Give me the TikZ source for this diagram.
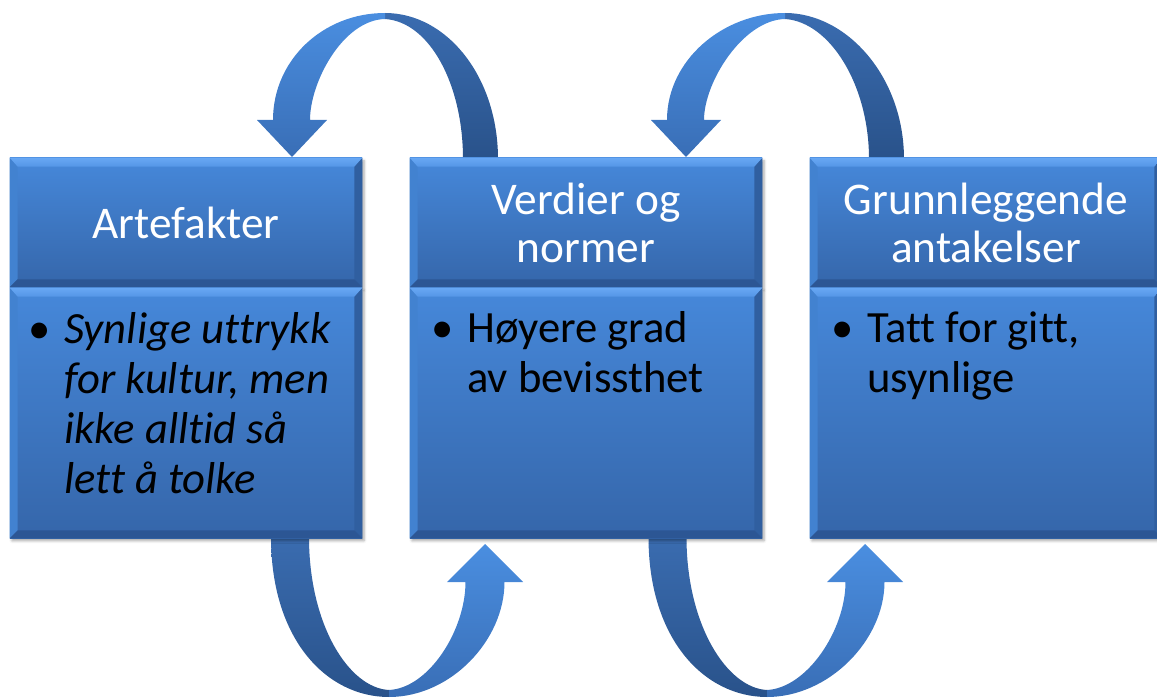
\documentclass[tikz,border=0pt]{standalone}
\usepackage{fontspec}
\setmainfont{Carlito}[Ligatures=NoCommon]
\usetikzlibrary{shadows.blur}

\definecolor{boxtop}{RGB}{70,136,218}
\definecolor{boxbot}{RGB}{53,102,170}
\definecolor{bevtopA}{RGB}{104,168,244}
\definecolor{bevtopB}{RGB}{84,150,230}
\definecolor{bevleft}{RGB}{66,130,208}
\definecolor{bevright}{RGB}{48,95,160}
\definecolor{bevbot}{RGB}{44,86,148}
\definecolor{lighttop}{RGB}{74,142,224}
\definecolor{lightbot}{RGB}{57,110,182}
\definecolor{darktop}{RGB}{58,108,176}
\definecolor{darkbot}{RGB}{41,82,138}

\tikzset{
  panel/.style={rectangle, inner sep=0pt, minimum width=264pt,
    top color=boxtop, bottom color=boxbot,
    blur shadow={shadow xshift=1.5pt, shadow yshift=-2pt,
      shadow blur radius=2pt, shadow opacity=35}},
  header/.style={panel, minimum height=96.75pt, text=white, align=center,
    font=\fontsize{34}{36}\selectfont},
  body/.style={panel, minimum height=187.5pt},
  bodytext/.style={anchor=base west, inner sep=0pt, text=black,
    font=\fontsize{33.5}{37.5}\selectfont},
}

% curved arrow over the panels: #1 tail centre, #2 apex, #3 head tip
\newcommand\toparrow[3]{%
  \shade[top color=darktop, bottom color=darkbot]
    ({#1+17.5},159) .. controls ({#1+17.5},77) and ({#2+62},13) .. (#2,13)
    -- (#2,19) .. controls ({#2+45},22) and ({#1-17.5},85) .. ({#1-17.5},159) -- cycle;
  \shade[top color=lighttop, bottom color=lightbot]
    (#2,13) .. controls ({#2-62},13) and ({#3-19},60) .. ({#3-19},120)
    -- ({#3-35},120) -- (#3,157) -- ({#3+35},120) -- ({#3+18},120)
    .. controls ({#3+18},82) and ({#2-42},20) .. (#2,19) -- cycle;
}
% curved arrow under the panels: #1 tail centre, #2 apex, #3 head tip
\newcommand\botarrow[3]{%
  \shade[top color=darktop, bottom color=darkbot]
    ({#1-19},537) .. controls ({#1-19},640) and ({#2-62},697) .. (#2,697)
    -- (#2,690) .. controls ({#2-40},688) and ({#1+19},625) .. ({#1+19},537) -- cycle;
  \shade[top color=lighttop, bottom color=lightbot]
    (#2,697) .. controls ({#2+62},697) and ({#3+19.5},640) .. ({#3+19.5},582)
    -- ({#3+38},582) -- (#3,544) -- ({#3-38},582) -- ({#3-19.5},582)
    .. controls ({#3-19.5},630) and ({#2+40},688) .. (#2,690) -- cycle;
}

\begin{document}
\begin{tikzpicture}[x=0.75pt, y=-0.75pt]
  \useasboundingbox (0,0) rectangle (1157,698);

  % arrows
  \toparrow{480.5}{385}{292}
  \toparrow{886.5}{785}{686}
  \botarrow{290}{389}{485}
  \botarrow{667.5}{767}{865}

  % headers
  \node[header] (h1) at (186,222.5) {Artefakter};
  \node[header] (h2) at (586,222.5) {Verdier og\\normer};
  \node[header] (h3) at (986,222.5) {Grunnleggende\\antakelser};
  % bodies
  \node[body] (b1) at (186,413) {};
  \node[body] (b2) at (586,413) {};
  \node[body] (b3) at (986,413) {};

  % bevelled edges
  \foreach \n in {h1,b1,h2,b2,h3,b3}{
    \fill[bevleft] (\n.north west) -- ([shift={(8,8)}]\n.north west)
      -- ([shift={(8,-8)}]\n.south west) -- (\n.south west) -- cycle;
    \fill[bevright] (\n.north east) -- (\n.south east)
      -- ([shift={(-8,-8)}]\n.south east) -- ([shift={(-8,8)}]\n.north east) -- cycle;
    \fill[bevbot] (\n.south east) -- (\n.south west)
      -- ([shift={(8,-8)}]\n.south west) -- ([shift={(-8,-8)}]\n.south east) -- cycle;
    \shade[top color=bevtopA, bottom color=bevtopB] (\n.north west) -- (\n.north east)
      -- ([shift={(-8,9)}]\n.north east) -- ([shift={(8,9)}]\n.north west) -- cycle;
  }

  % body texts
  \node[bodytext] (t1) at (64,344) {\parbox[t]{290pt}{\raggedright
    \leavevmode\llap{\upshape •\hspace{10pt}}\itshape Synlige uttrykk\\for kultur, men\\ikke alltid så\\lett å tolke}};
  \node[bodytext] (t2) at (467,343) {\parbox[t]{290pt}{\raggedright
    \leavevmode\llap{•\hspace{10pt}}Høyere grad\\av bevissthet}};
  \node[bodytext] (t3) at (867,343) {\parbox[t]{290pt}{\raggedright
    \leavevmode\llap{•\hspace{10pt}}Tatt for gitt,\\usynlige}};
\end{tikzpicture}
\end{document}
